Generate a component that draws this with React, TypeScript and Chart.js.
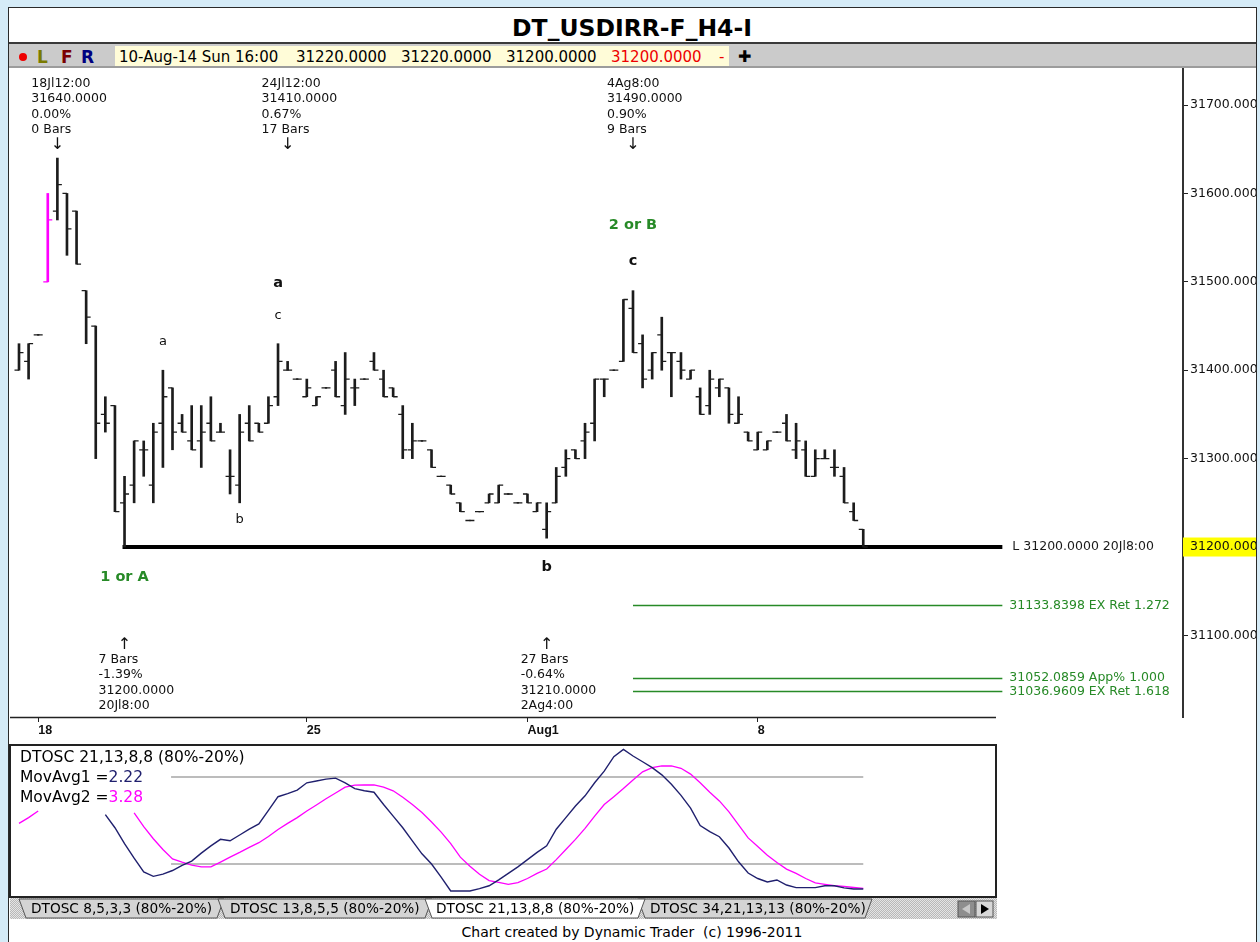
import React, { useEffect, useRef } from 'react';
import { Chart, registerables } from 'chart.js';

Chart.register(...registerables);

const FONT = '"DejaVu Sans", Verdana, sans-serif';

// ---------- 4-hour OHLC bars (index 0 = first bar on screen) ----------
const barOpen = [31400,31410,31440,31500,31580,31600,31580,31490,31450,31350,31360,31250,31270,31310,31270,31340,31380,31340,31320,31320,31340,31330,31280,31270,31340,31340,31340,31370,31400,31390,31370,31360,31380,31400,31360,31380,31390,31410,31390,31380,31350,31310,31320,31310,31280,31270,31250,31230,31240,31250,31250,31260,31250,31260,31240,31220,31250,31290,31310,31320,31340,31390,31400,31410,31470,31430,31400,31440,31420,31410,31390,31370,31360,31380,31380,31340,31330,31310,31310,31330,31340,31310,31310,31280,31300,31290,31280,31240,31220];
const barHigh = [31430,31430,31440,31600,31640,31600,31580,31490,31450,31370,31360,31280,31320,31320,31340,31400,31380,31350,31360,31360,31370,31340,31310,31350,31360,31340,31370,31430,31410,31390,31390,31370,31380,31410,31420,31390,31390,31420,31400,31380,31360,31340,31320,31310,31280,31270,31250,31230,31240,31260,31270,31260,31250,31260,31250,31250,31290,31310,31310,31340,31390,31390,31400,31480,31490,31440,31420,31460,31420,31420,31400,31380,31400,31390,31380,31370,31330,31330,31320,31330,31350,31340,31320,31310,31310,31310,31290,31250,31220];
const barLow = [31400,31390,31440,31500,31570,31530,31520,31430,31300,31330,31240,31200,31250,31280,31250,31290,31310,31330,31310,31290,31320,31330,31260,31250,31320,31330,31340,31360,31400,31390,31370,31360,31380,31370,31350,31360,31390,31400,31370,31370,31300,31300,31320,31290,31280,31260,31240,31230,31240,31250,31250,31260,31250,31250,31240,31210,31250,31280,31300,31300,31320,31370,31400,31410,31420,31380,31390,31400,31370,31390,31390,31350,31350,31370,31340,31340,31320,31310,31310,31330,31320,31300,31280,31280,31300,31280,31250,31230,31200];
const barClose = [31420,31430,31440,31570,31610,31560,31520,31460,31340,31340,31240,31260,31320,31310,31330,31370,31330,31330,31310,31330,31320,31330,31280,31330,31320,31330,31360,31410,31400,31390,31380,31370,31380,31370,31390,31380,31390,31400,31370,31370,31310,31320,31320,31290,31280,31260,31240,31230,31240,31260,31270,31260,31250,31250,31250,31240,31280,31300,31300,31330,31390,31390,31400,31480,31420,31390,31420,31410,31420,31400,31400,31350,31390,31390,31350,31350,31320,31330,31320,31330,31320,31320,31280,31300,31300,31290,31250,31230,31200];
const highlightBar = 3; // bar drawn in magenta

// ---------- axes ----------
const priceTicks = [31100, 31200, 31300, 31400, 31500, 31600, 31700];
const dateTickIdx = [2, 30, 53, 77];
const dateTickLabels = ['18', '25', 'Aug1', '8'];

// ---------- levels ----------
const levelPrices = [31200, 31133.8398, 31052.0859, 31036.9609];
const levelLabels = ['L 31200.0000 20Jl8:00', '31133.8398 EX Ret 1.272', '31052.0859 App% 1.000', '31036.9609 EX Ret 1.618'];
const levelStartIdx = [11, 64, 64, 64];
const levelEndIdx = 102.5;

// ---------- swing annotations ----------
const topNoteIdx = [4, 28, 64];
const topNoteLines = [
  ['18Jl12:00', '31640.0000', '0.00%', '0 Bars'],
  ['24Jl12:00', '31410.0000', '0.67%', '17 Bars'],
  ['4Ag8:00', '31490.0000', '0.90%', '9 Bars'],
];
const bottomNoteIdx = [11, 55];
const bottomNoteLines = [
  ['7 Bars', '-1.39%', '31200.0000', '20Jl8:00'],
  ['27 Bars', '-0.64%', '31210.0000', '2Ag4:00'],
];

// ---------- wave labels ----------
const waveIdx = [15, 23, 27, 27, 64, 64, 11, 55];
const waveText = ['a', 'b', 'c', 'a', 'c', '2 or B', '1 or A', 'b'];

// ---------- oscillator ----------
const oscFast = [null,null,null,null,null,null,null,null,null,54,45,34,24,14.5,11.5,13,15.5,19,22,27.5,32.5,37,36,40,44,47.6,57,66.4,68.5,71,76,77.2,78.5,79.2,76,72,70.5,69.5,61,53,45,36,27,20,11,1.4,1.4,1.4,3,5,9,13.5,18,23,28,32.5,44,52,60,67,76,84,94,99,94.5,90.5,86.5,81.5,75,67.3,58.5,46.5,42.3,38.8,31,21.5,13.8,10,7.6,9,5.5,3.7,3.7,3.7,5,5,3.5,2.8,2.8];
const oscSlow = [48,52,56.5,null,null,null,null,null,null,null,null,null,55.2,45.7,37.4,30,23.5,21.3,19.3,18,18,21.3,24.7,28,31.5,34.7,39,43.8,48,52,56.5,60.7,65,69,73,74.4,74.5,74.5,73,70.5,66,61,55.5,49,42,34,24.7,18.4,12.9,8.6,7.3,6,7.2,10,13.5,16.5,23,30,37,44.6,53,61,66.4,72,78,83.6,86.5,87.6,87.6,86,82,76,69.5,63.5,56,47,38,32,26,21,16.5,13.5,10,7,6,5,4.5,3.8,3.2];
const oscBands = [80, 20];
const oscBandStartIdx = 15.85;
const oscBandEndIdx = 88;

const NAVY = '#20206e';
const MAGENTA = '#ff00ff';
const GREEN = '#278a27';
const BAR = '#1c1c1c';

const ohlcPlugin = {
  id: 'ohlcExtras',
  beforeDatasetsDraw(chart: any) {
    const { ctx, scales } = chart;
    const x = scales.x, y = scales.y;
    ctx.save();
    levelPrices.forEach((p, k) => {
      const yy = Math.round(y.getPixelForValue(p)) + (k === 0 ? 0 : 0.5);
      const x0 = x.getPixelForValue(levelStartIdx[k]) - (k === 0 ? 2 : 0);
      const x1 = x.getPixelForValue(levelEndIdx);
      ctx.strokeStyle = k === 0 ? '#000' : GREEN;
      ctx.lineWidth = k === 0 ? 4 : 1.5;
      ctx.beginPath();
      ctx.moveTo(x0, yy);
      ctx.lineTo(x1, yy);
      ctx.stroke();
    });
    ctx.restore();
  },
  afterDatasetsDraw(chart: any) {
    const { ctx, scales, chartArea } = chart;
    const x = scales.x, y = scales.y;
    ctx.save();
    // open / close ticks
    ctx.lineWidth = 1.3;
    for (let i = 0; i < barOpen.length; i++) {
      const px = x.getPixelForValue(i);
      const yo = y.getPixelForValue(barOpen[i]);
      const yc = y.getPixelForValue(barClose[i]);
      ctx.strokeStyle = i === highlightBar ? MAGENTA : BAR;
      ctx.beginPath();
      ctx.moveTo(px - 4.5, yo);
      ctx.lineTo(px, yo);
      ctx.moveTo(px, yc);
      ctx.lineTo(px + 4.5, yc);
      ctx.stroke();
      if (barHigh[i] === barLow[i]) {
        ctx.beginPath();
        ctx.moveTo(px - 1, yo);
        ctx.lineTo(px + 1, yo);
        ctx.stroke();
      }
    }
    // level texts
    ctx.textBaseline = 'middle';
    ctx.textAlign = 'left';
    ctx.font = `12.5px ${FONT}`;
    levelPrices.forEach((p, k) => {
      const yy = y.getPixelForValue(p);
      const x1 = x.getPixelForValue(levelEndIdx);
      ctx.fillStyle = k === 0 ? '#1a1a1a' : GREEN;
      ctx.fillText(levelLabels[k], x1 + (k === 0 ? 10 : 7), yy + (k === 3 ? 1 : 0));
    });
    // swing notes
    ctx.fillStyle = '#111';
    const topOffsets = [16, 31, 47, 62];
    topNoteIdx.forEach((idx, k) => {
      const px = x.getPixelForValue(idx);
      topNoteLines[k].forEach((t, j) => ctx.fillText(t, px - 26, chartArea.top + topOffsets[j]));
      ctx.textAlign = 'center';
      ctx.font = `16px ${FONT}`;
      ctx.fillText('↓', px, chartArea.top + 77);
      ctx.textAlign = 'left';
      ctx.font = `12.5px ${FONT}`;
    });
    const botOffsets = [-57, -42, -26, -11];
    bottomNoteIdx.forEach((idx, k) => {
      const px = x.getPixelForValue(idx);
      bottomNoteLines[k].forEach((t, j) => ctx.fillText(t, px - 26, chartArea.bottom + botOffsets[j]));
      ctx.textAlign = 'center';
      ctx.font = `16px ${FONT}`;
      ctx.fillText('↑', px, chartArea.bottom - 72);
      ctx.textAlign = 'left';
      ctx.font = `12.5px ${FONT}`;
    });
    // wave labels
    const waveStyle = [
      { at: 'h', off: -29, bold: false, green: false },
      { at: 'l', off: 17, bold: false, green: false },
      { at: 'h', off: -28.5, bold: false, green: false },
      { at: 'h', off: -60.5, bold: true, green: false },
      { at: 'h', off: -29.5, bold: true, green: false },
      { at: 'h', off: -65.5, bold: true, green: true },
      { at: 'l', off: 30, bold: true, green: true },
      { at: 'l', off: 29, bold: true, green: false },
    ];
    ctx.textAlign = 'center';
    waveIdx.forEach((idx, k) => {
      const st = waveStyle[k];
      const px = x.getPixelForValue(idx);
      const base = y.getPixelForValue(st.at === 'h' ? barHigh[idx] : barLow[idx]);
      ctx.font = st.bold ? `bold 14.5px ${FONT}` : `13px ${FONT}`;
      ctx.fillStyle = st.green ? GREEN : '#111';
      ctx.fillText(waveText[k], px, base + st.off);
    });
    // date axis line
    ctx.strokeStyle = '#222';
    ctx.lineWidth = 1.5;
    ctx.beginPath();
    ctx.moveTo(chartArea.left, chartArea.bottom + 0.5);
    ctx.lineTo(chartArea.left + 986, chartArea.bottom + 0.5);
    ctx.stroke();
    ctx.restore();
  },
};

function T(props: { x: number; y: number; size?: number; color?: string; bold?: boolean; center?: boolean; children: any }) {
  const size = props.size ?? 14;
  const center = !!props.center;
  return (
    <div
      style={{
        position: 'absolute',
        left: center ? props.x - 400 : props.x,
        width: center ? 800 : undefined,
        top: props.y - size * 0.6,
        textAlign: center ? 'center' : 'left',
        fontFamily: FONT,
        fontSize: size,
        lineHeight: `${size * 1.2}px`,
        color: props.color ?? '#000',
        fontWeight: props.bold ? 700 : 400,
        whiteSpace: 'pre',
      }}
    >
      {props.children}
    </div>
  );
}

export default function App() {
  const mainRef = useRef<HTMLCanvasElement>(null);
  const oscRef = useRef<HTMLCanvasElement>(null);

  useEffect(() => {
    const main = new Chart(mainRef.current as HTMLCanvasElement, {
      type: 'bar',
      data: {
        datasets: [
          {
            data: barHigh.map((h, i) => ({ x: i, y: [barLow[i], h] })) as any,
            backgroundColor: barHigh.map((_, i) => (i === highlightBar ? MAGENTA : BAR)),
            barThickness: 2,
            borderWidth: 0,
            borderSkipped: false,
          } as any,
        ],
      },
      options: {
        responsive: false,
        animation: false,
        layout: { padding: 0 },
        plugins: { legend: { display: false }, tooltip: { enabled: false } },
        scales: {
          x: {
            type: 'linear',
            offset: false,
            min: -0.938,
            max: 121.33,
            afterBuildTicks: (s: any) => {
              s.ticks = dateTickIdx.map((v) => ({ value: v }));
            },
            afterFit: (s: any) => {
              s.height = 28;
              s.paddingLeft = 0;
              s.paddingRight = 0;
            },
            ticks: {
              autoSkip: false,
              maxRotation: 0,
              align: 'start',
              padding: 1,
              color: '#111',
              font: { family: '"Liberation Sans Narrow", "Liberation Sans", sans-serif', size: 12.5, weight: 'bold' },
              callback: (v: any) => {
                const k = dateTickIdx.indexOf(Number(v));
                return k >= 0 ? dateTickLabels[k] : '';
              },
            },
            grid: { offset: false, drawOnChartArea: false, drawTicks: true, tickLength: 5, color: '#222', lineWidth: 1 },
            border: { display: false },
          },
          y: {
            position: 'right',
            min: 31007.7,
            max: 31741.9,
            afterBuildTicks: (s: any) => {
              s.ticks = priceTicks.map((v) => ({ value: v }));
            },
            afterFit: (s: any) => {
              s.width = 73;
              s.paddingTop = 0;
              s.paddingBottom = 0;
            },
            ticks: {
              padding: 2,
              color: '#111',
              font: { family: FONT, size: 12.5 },
              callback: (v: any) => Number(v).toFixed(3),
              showLabelBackdrop: (c: any) => !!c.tick && c.tick.value === 31200,
              backdropColor: '#ffff00',
              backdropPadding: { top: 2, bottom: 2, left: 7, right: 4 },
            } as any,
            grid: { drawOnChartArea: false, drawTicks: true, tickLength: 5, color: '#222', lineWidth: 1 },
            border: { display: true, color: '#333', width: 2 },
          },
        },
      } as any,
      plugins: [ohlcPlugin],
    });

    const osc = new Chart(oscRef.current as HTMLCanvasElement, {
      type: 'line',
      data: {
        datasets: [
          {
            data: oscFast.map((v, i) => ({ x: i, y: v })) as any,
            borderColor: NAVY,
            borderWidth: 1.4,
            pointRadius: 0,
            spanGaps: false,
          },
          {
            data: oscSlow.map((v, i) => ({ x: i, y: v })) as any,
            borderColor: MAGENTA,
            borderWidth: 1.3,
            pointRadius: 0,
            spanGaps: false,
          },
          ...oscBands.map((b) => ({
            data: [
              { x: oscBandStartIdx, y: b },
              { x: oscBandEndIdx, y: b },
            ] as any,
            borderColor: '#a6a6a6',
            borderWidth: 1.5,
            pointRadius: 0,
          })),
        ],
      },
      options: {
        responsive: false,
        animation: false,
        layout: { padding: 0 },
        plugins: { legend: { display: false }, tooltip: { enabled: false } },
        scales: {
          x: { type: 'linear', display: false, offset: false, min: -0.834, max: 101.73 },
          y: { display: false, min: -2.07, max: 101.38 },
        },
      } as any,
    });

    return () => {
      main.destroy();
      osc.destroy();
    };
  }, []);

  const tabs = [
    { l: 19, r: 224, text: 'DTOSC 8,5,3,3 (80%-20%)', tx: 31 },
    { l: 218, r: 432, text: 'DTOSC 13,8,5,5 (80%-20%)', tx: 230 },
    { l: 638, r: 872, text: 'DTOSC 34,21,13,13 (80%-20%)', tx: 650 },
    { l: 425, r: 645, text: 'DTOSC 21,13,8,8 (80%-20%)', tx: 436, active: true },
  ];

  return (
    <div style={{ position: 'fixed', left: 0, top: 0, width: 1260, height: 942, background: '#d5ebf7', overflow: 'hidden' }}>
      {/* frame */}
      <div style={{ position: 'absolute', left: 8, top: 7, width: 1249, height: 940, background: '#fff', border: '1.5px solid #2a2a2a', boxSizing: 'border-box' }} />
      {/* toolbar */}
      <div style={{ position: 'absolute', left: 9, top: 42, width: 1247, height: 2, background: '#3a3a3a' }} />
      <div style={{ position: 'absolute', left: 9, top: 44, width: 1247, height: 23, background: '#cbcbcb' }} />
      <div style={{ position: 'absolute', left: 9, top: 66, width: 1247, height: 2, background: '#9c9c9c' }} />
      {/* title */}
      <T x={632} y={28.5} size={23.5} bold center>DT_USDIRR-F_H4-I</T>
      <div style={{ position: 'absolute', left: 19, top: 53, width: 8, height: 8, borderRadius: 4, background: '#ee0000' }} />
      <T x={37} y={57} size={17} bold color="#7a7a00">L</T>
      <T x={61} y={57} size={17} bold color="#7a0000">F</T>
      <T x={81} y={57} size={17} bold color="#000080">R</T>
      <div style={{ position: 'absolute', left: 115, top: 46, width: 614, height: 20, background: '#fffcd8' }} />
      <T x={119} y={57} size={15}>10-Aug-14 Sun 16:00</T>
      <T x={296} y={57} size={15}>31220.0000</T>
      <T x={401} y={57} size={15}>31220.0000</T>
      <T x={506} y={57} size={15}>31200.0000</T>
      <T x={611} y={57} size={15} color="#ee0000">31200.0000</T>
      <T x={719} y={57} size={15} color="#ee0000">-</T>
      <T x={738} y={57} size={16} bold>✚</T>

      {/* main price chart */}
      <canvas ref={mainRef} width={1246} height={677} style={{ position: 'absolute', left: 10, top: 68, width: 1246, height: 677 }} />

      {/* oscillator panel */}
      <div style={{ position: 'absolute', left: 9, top: 744, width: 988, height: 154, border: '2px solid #222', boxSizing: 'border-box', background: '#fff' }} />
      <canvas ref={oscRef} width={984} height={150} style={{ position: 'absolute', left: 11, top: 746, width: 984, height: 150 }} />
      <T x={20} y={757} size={15.5}>DTOSC 21,13,8,8 (80%-20%)</T>
      <T x={20} y={777} size={15.5}>
        MovAvg1 =<span style={{ color: NAVY }}>2.22</span>
      </T>
      <T x={20} y={797} size={15.5}>
        MovAvg2 =<span style={{ color: MAGENTA }}>3.28</span>
      </T>

      {/* tabs */}
      <svg width={990} height={22} style={{ position: 'absolute', left: 9, top: 898 }}>
        <defs>
          <pattern id="hatch" width="2" height="2" patternUnits="userSpaceOnUse">
            <rect width="2" height="2" fill="#e4e4e4" />
            <rect width="1" height="1" fill="#b8b8b8" />
            <rect x="1" y="1" width="1" height="1" fill="#b8b8b8" />
          </pattern>
        </defs>
        <rect x={1} y={0} width={987} height={21} fill="url(#hatch)" />
        {tabs.map((t, i) => (
          <g key={i}>
            <polygon
              points={`${t.l - 9},1 ${t.l - 2},20 ${t.r - 16},20 ${t.r - 9},1`}
              fill={t.active ? '#ffffff' : '#d4d4d4'}
              stroke="#555"
              strokeWidth={1}
            />
            <text x={t.tx - 9} y={15} fontFamily={FONT} fontSize={13.7} fill="#000">
              {t.text}
            </text>
          </g>
        ))}
        <rect x={949} y={3} width={17} height={16} fill="#8e8e8e" stroke="#555" />
        <rect x={967} y={3} width={17} height={16} fill="#d8d8d8" stroke="#555" />
        <polygon points="953,11 961,6 961,16" fill="#c8c8c8" />
        <polygon points="980,11 972,6 972,16" fill="#000" />
      </svg>

      {/* footer */}
      <T x={632} y={932} size={14} center>{'Chart created by Dynamic Trader  (c) 1996-2011'}</T>
    </div>
  );
}
